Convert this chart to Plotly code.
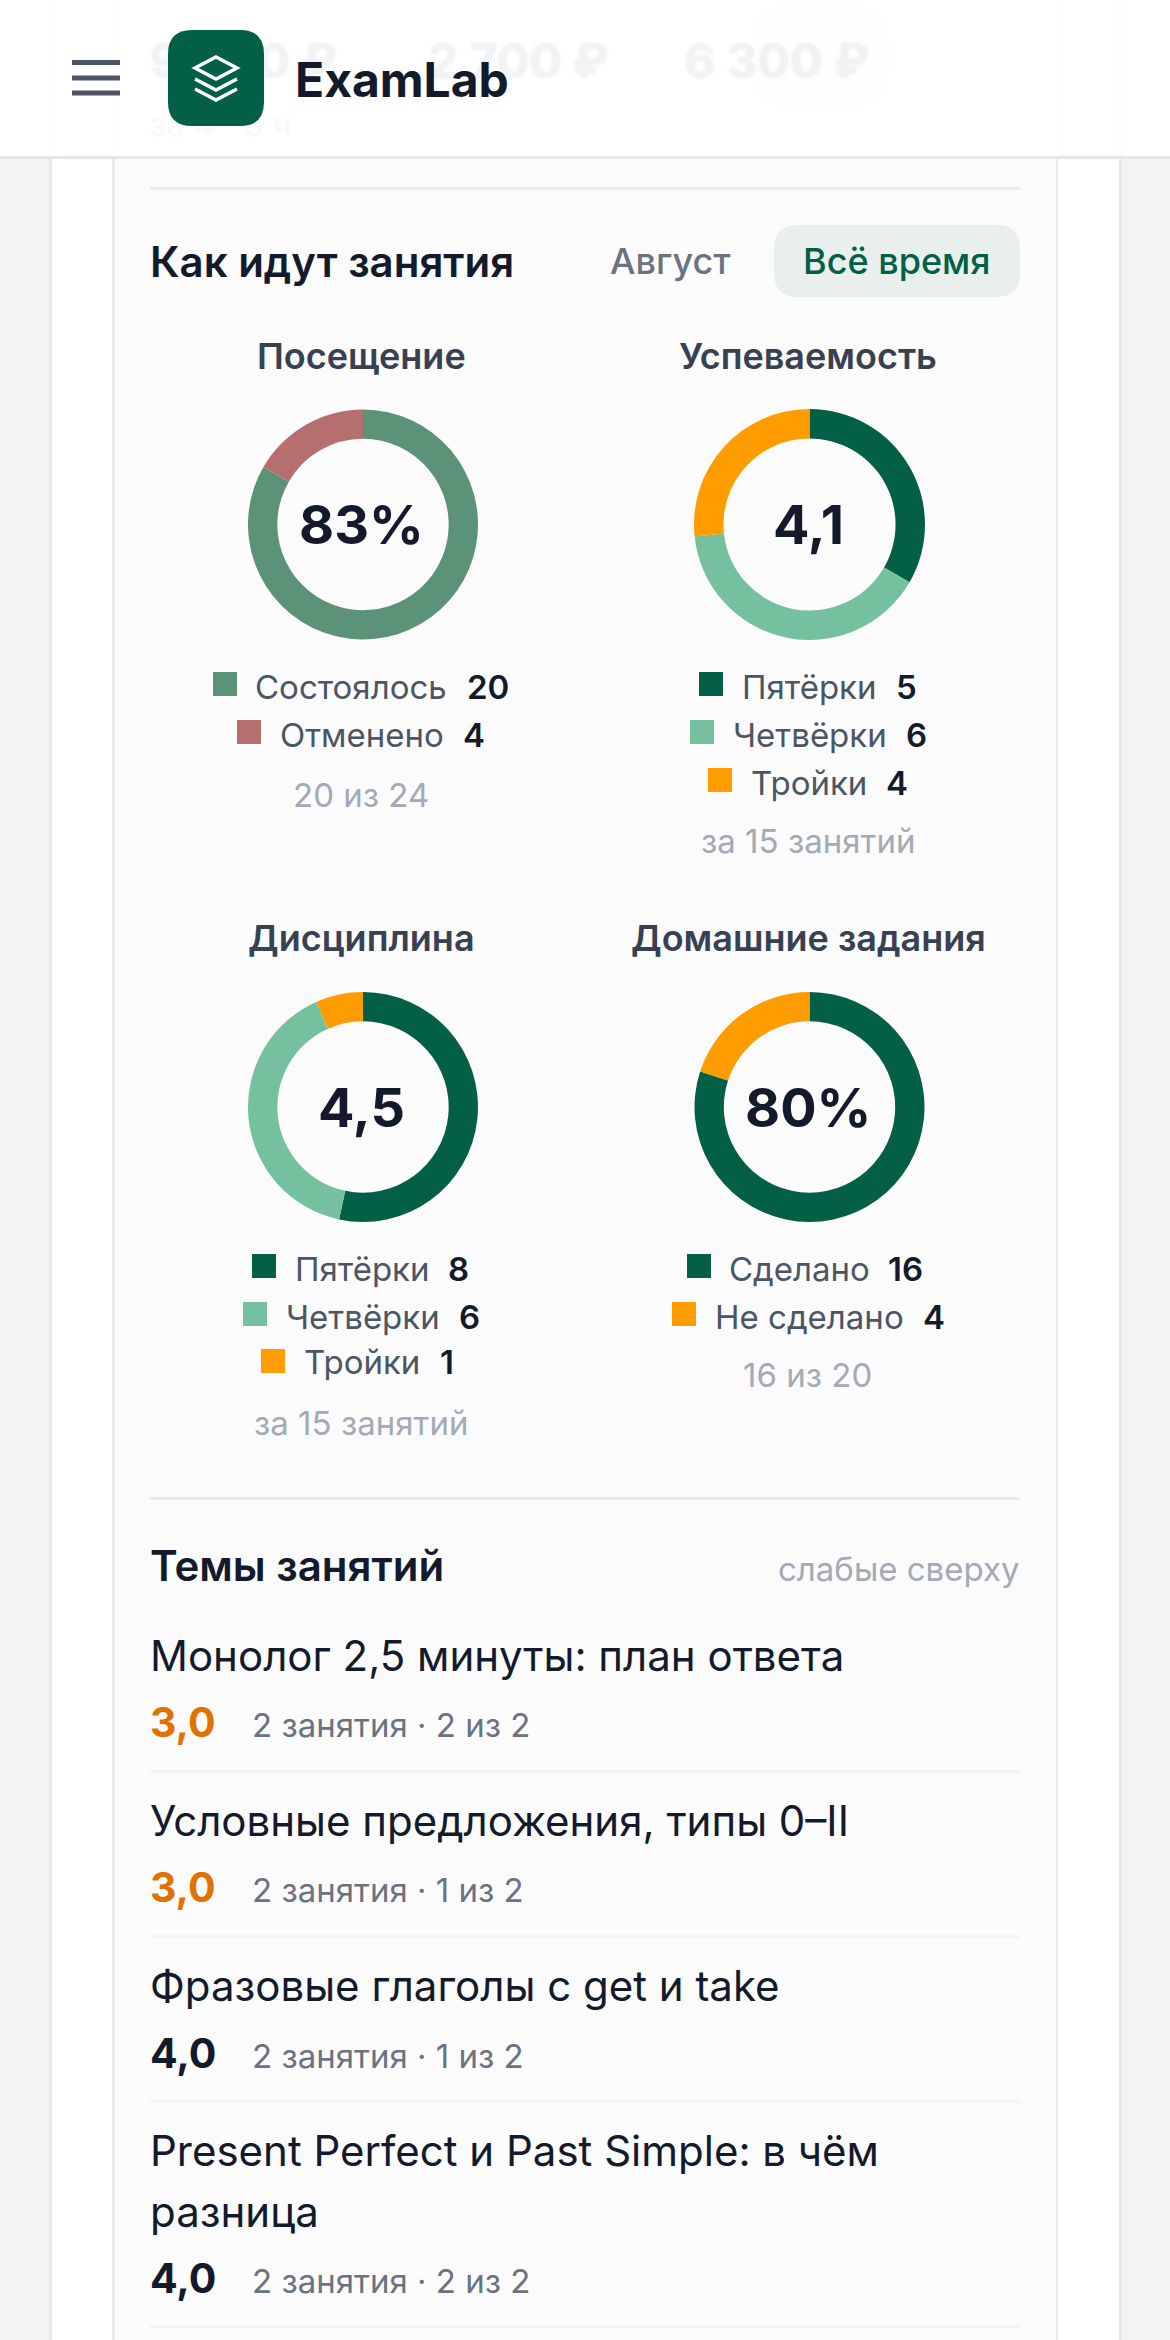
import plotly.graph_objects as go

W, H = 1170, 2340

# chart data
donut_titles = ["Посещение", "Успеваемость", "Дисциплина", "Домашние задания"]
donut_centers = ["83%", "4,1", "4,5", "80%"]
donut_notes = ["20 из 24", "за 15 занятий", "за 15 занятий", "16 из 20"]
attendance_labels = ["Состоялось", "Отменено"]
attendance_values = [20, 4]
grades_labels = ["Пятёрки", "Четвёрки", "Тройки"]
grades_values = [5, 6, 4]
discipline_labels = ["Пятёрки", "Четвёрки", "Тройки"]
discipline_values = [8, 6, 1]
homework_labels = ["Сделано", "Не сделано"]
homework_values = [16, 4]

topic_names = [["Монолог 2,5 минуты: план ответа"], ["Условные предложения, типы 0–II"],
               ["Фразовые глаголы с get и take"], ["Present Perfect и Past Simple: в чём", "разница"]]
topic_scores = ["3,0", "3,0", "4,0", "4,0"]
topic_meta = ["2 занятия · 2 из 2", "2 занятия · 1 из 2", "2 занятия · 1 из 2", "2 занятия · 2 из 2"]

ghost_texts = ["9 000 ₽", "2 700 ₽", "6 300 ₽", "за 4 · 5 ч"]

# colours
DARK = "#131a2b"
SLATE = "#374151"
GREY = "#4b5563"
MUTED = "#6b7280"
FAINT = "#a3aab5"
GREEN = "#035f46"
MINT = "#75c09e"
AMBER = "#ff9c00"
SOFT_GREEN = "#5c9277"
SOFT_RED = "#b56f6f"
ORANGE = "#e27200"
FONT = "Inter"

donut_colors = [[SOFT_GREEN, SOFT_RED], [GREEN, MINT, AMBER], [GREEN, MINT, AMBER], [GREEN, AMBER]]

# layout, in page pixels
donut_boxes = [(248, 478, 409, 640), (694, 925, 409, 640), (248, 478, 992, 1222), (694, 925, 992, 1222)]
title_pos = [(361, 356), (808, 356), (361, 938), (808, 938)]
center_pos = [(361, 524), (808, 524), (361, 1107), (808, 1107)]
note_pos = [(361, 795), (808, 841), (361, 1423), (807, 1375)]
# (square x, square y, label x, value x, text y) for each legend row
legend_rows = [
    [(213, 672, 255, 467, 687), (237, 720, 280, 463, 735)],
    [(699, 672, 742, 896, 687), (690, 720, 733, 906, 735), (708, 768, 751, 886, 783)],
    [(252, 1254, 295, 448, 1269), (243, 1302, 286, 459, 1317), (261, 1349, 304, 440, 1362)],
    [(687, 1254, 729, 888, 1269), (672, 1302, 715, 923, 1317)],
]
# (y of each name line, score y, rule y)
topic_rows = [((1655,), 1722, 1771), ((1820,), 1887, 1936), ((1985,), 2053, 2101), ((2150, 2211), 2278, 2326)]
ghost_pos = [(150, 66), (428, 66), (684, 66), (150, 128)]


def rounded(x0, y0, x1, y1, r):
    return (f"M {x0 + r},{y0} H {x1 - r} Q {x1},{y0} {x1},{y0 + r} V {y1 - r} Q {x1},{y1} {x1 - r},{y1} "
            f"H {x0 + r} Q {x0},{y1} {x0},{y1 - r} V {y0 + r} Q {x0},{y0} {x0 + r},{y0} Z")


def rect(x0, y0, x1, y1, color, layer="below"):
    return dict(type="rect", xref="x", yref="y", x0=x0, y0=y0, x1=x1, y1=y1, fillcolor=color,
                line_width=0, layer=layer)


def path(d, fill=None, line=None, width=0, layer="below"):
    return dict(type="path", xref="x", yref="y", path=d, fillcolor=fill or "rgba(0,0,0,0)",
                line=dict(color=line or "rgba(0,0,0,0)", width=width), layer=layer)


def label(text, x, y, size, color, weight=400, anchor="left"):
    return dict(text=text, x=x, y=y, xref="x", yref="y", xanchor=anchor, yanchor="middle", showarrow=False,
                borderpad=0, borderwidth=0, align="left" if anchor == "left" else anchor,
                font=dict(family=FONT, size=size, color=color, weight=weight))


fig = go.Figure()

# ghost of the page scrolled behind the header
fig.add_trace(go.Scatter(
    x=[p[0] for p in ghost_pos[:3]], y=[p[1] for p in ghost_pos[:3]], text=ghost_texts[:3], mode="text",
    textposition="middle right", hoverinfo="skip", showlegend=False,
    textfont=dict(family=FONT, size=48, color="#5b6875", weight=700, shadow="0 0 4px #5b6875")))
fig.add_trace(go.Scatter(
    x=[ghost_pos[3][0]], y=[ghost_pos[3][1]], text=[ghost_texts[3]], mode="text",
    textposition="middle right", hoverinfo="skip", showlegend=False,
    textfont=dict(family=FONT, size=33, color="#a0a9b3", shadow="0 0 3px #a0a9b3")))

series = [(attendance_labels, attendance_values), (grades_labels, grades_values),
          (discipline_labels, discipline_values), (homework_labels, homework_values)]
for (labels, values), colors, box in zip(series, donut_colors, donut_boxes):
    fig.add_trace(go.Pie(
        labels=labels, values=values, hole=0.745, sort=False, direction="clockwise", rotation=0,
        marker=dict(colors=colors, line=dict(width=0)), textinfo="none", hoverinfo="skip", showlegend=False,
        domain=dict(x=[box[0] / W, box[1] / W], y=[1 - box[3] / H, 1 - box[2] / H])))

shapes = [
    rect(0, 0, W, H, "#f3f4f6"),
    rect(50, 0, 1120, H, "#ffffff"),
    rect(49, 0, 52, H, "#e5e7eb"),
    rect(1119, 0, 1122, H, "#e5e7eb"),
    rect(112, 0, 1058, H, "#fbfbfc"),
    rect(112, 0, 115, H, "#e8eaed"),
    rect(1056, 0, 1058, H, "#e8eaed"),
    rect(150, 187, 1020, 190, "#e9ecea"),
    path(rounded(774, 225, 1020, 297, 24), fill="#e9efec"),
    rect(150, 1497, 1020, 1500, "#e9ecea"),
]
for row in topic_rows:
    shapes.append(rect(150, row[2] - 1, 1020, row[2] + 2, "#f3f4f6"))

# header veil, tint, bottom rule and logo
shapes += [
    rect(0, 0, W, 156, "rgba(255,255,255,0.92)", "above"),
    path(rounded(690, 0, 950, 150, 70), fill="rgba(255,170,100,0.004)", layer="above"),
    path(rounded(720, 0, 920, 135, 60), fill="rgba(255,170,100,0.005)", layer="above"),
    path(rounded(750, 0, 890, 110, 50), fill="rgba(255,170,100,0.006)", layer="above"),
    rect(0, 156, W, 159, "#e5e7eb", "above"),
    path(rounded(168, 30, 264, 126, 24), fill=GREEN, layer="above"),
    path("M 216,57 L 237,68 L 216,79 L 195,68 Z", line="#ffffff", width=3.5, layer="above"),
    path("M 195,79 L 216,90 L 237,79", line="#ffffff", width=3.5, layer="above"),
    path("M 195,89 L 216,100 L 237,89", line="#ffffff", width=3.5, layer="above"),
]
for y in (62.5, 78, 93):
    shapes.append(path(f"M 72,{y} H 120", line=GREY, width=5, layer="above"))

annotations = [
    label("ExamLab", 295, 79, 48, DARK, 700),
    label("Как идут занятия", 150, 261, 42, DARK, 600),
    label("Август", 610, 261, 36, MUTED, 500),
    label("Всё время", 803, 261, 36, GREEN, 500),
    label("Темы занятий", 150, 1565, 42, DARK, 600),
    label("слабые сверху", 1020, 1569, 33, FAINT, 400, "right"),
]

for i, (labels, values) in enumerate(series):
    annotations.append(label(donut_titles[i], *title_pos[i], 36, SLATE, 600, "center"))
    annotations.append(label(donut_centers[i], *center_pos[i], 54, DARK, 700, "center"))
    annotations.append(label(donut_notes[i], *note_pos[i], 33, FAINT, 400, "center"))
    for name, value, color, row in zip(labels, values, donut_colors[i], legend_rows[i]):
        sx, sy, lx, vx, ty = row
        shapes.append(rect(sx, sy, sx + 24, sy + 24, color))
        annotations.append(label(name, lx, ty, 33, GREY))
        annotations.append(label(str(value), vx, ty, 33, DARK, 600))

for lines, score, meta, row in zip(topic_names, topic_scores, topic_meta, topic_rows):
    for line, y in zip(lines, row[0]):
        annotations.append(label(line, 150, y, 42, DARK))
    color = ORANGE if score == "3,0" else DARK
    annotations.append(label(score, 150, row[1], 41, color, 700))
    annotations.append(label(meta, 252, row[1] + 3, 33, MUTED))

fig.update_layout(
    width=W, height=H, margin=dict(l=0, r=0, t=0, b=0), autosize=False,
    paper_bgcolor="#f3f4f6", plot_bgcolor="rgba(0,0,0,0)", showlegend=False,
    xaxis=dict(range=[0, W], visible=False, fixedrange=True, domain=[0, 1]),
    yaxis=dict(range=[H, 0], visible=False, fixedrange=True, domain=[0, 1]),
    shapes=shapes, annotations=annotations,
)

fig.write_html("out.html", config=dict(displayModeBar=False),
               post_script="document.body.style.margin='0';document.body.style.overflow='hidden';")
